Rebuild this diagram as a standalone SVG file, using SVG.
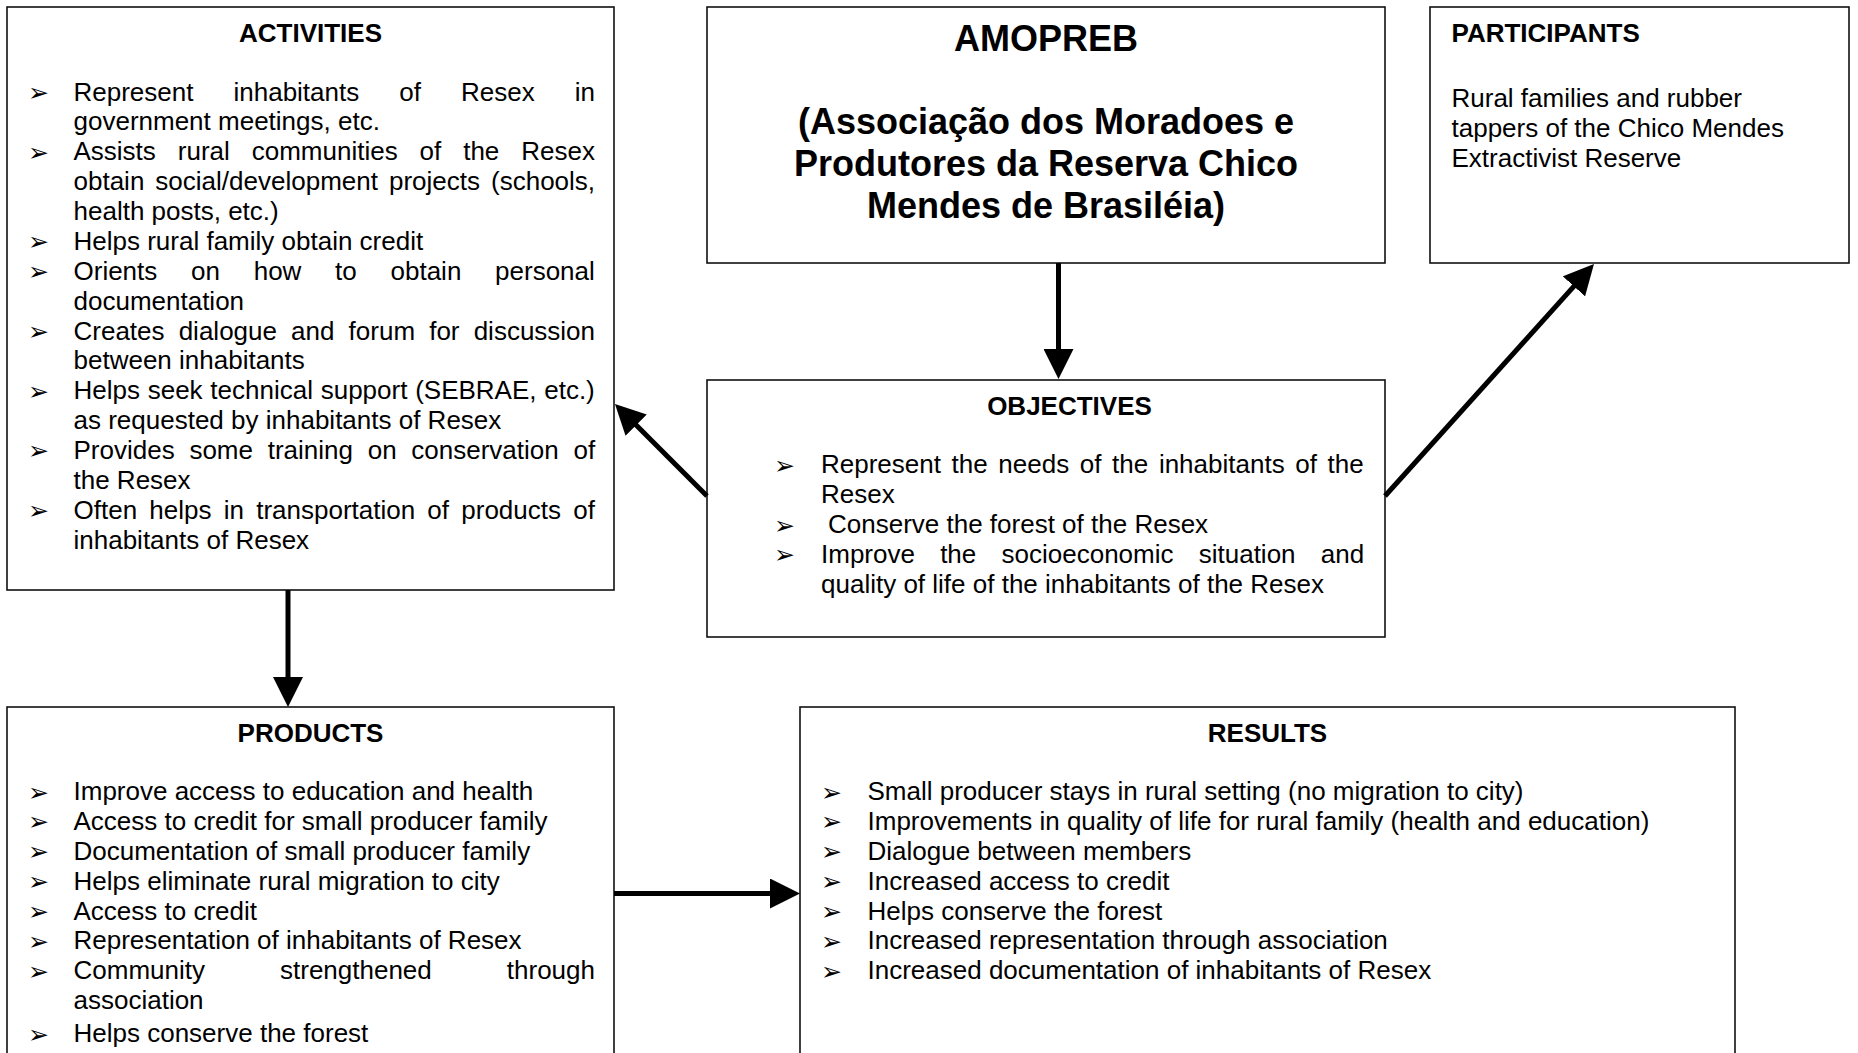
<svg xmlns="http://www.w3.org/2000/svg" width="1858" height="1053" viewBox="0 0 1858 1053">
<style>
.box{fill:#fff;stroke:#111;stroke-width:1.6}
text{font-family:"Liberation Sans",Arial,sans-serif;font-size:26px;fill:#000}
.h{font-weight:bold}
.t{font-weight:bold;font-size:36px}
.c{text-anchor:middle}
.b{font-family:"DejaVu Sans",sans-serif;font-size:25px}
.con{stroke:#000;stroke-width:5;fill:none;marker-end:url(#ah)}
</style>
<defs>
<marker id="ah" viewBox="0 0 30 30" refX="10" refY="15" markerWidth="30" markerHeight="30" markerUnits="userSpaceOnUse" orient="auto">
<path d="M0,0 L30,15 L0,30 z" fill="#000"/>
</marker>
</defs>
<rect width="1858" height="1053" fill="#fff"/>

<g id="activities">
<rect class="box" x="7" y="7" width="607" height="583"/>
<text class="h c" x="310.5" y="42">ACTIVITIES</text>
<text class="b" x="28" y="101">➢</text>
<text x="73.5" y="100.5" word-spacing="32.8">Represent inhabitants of Resex in</text>
<text x="73.5" y="130.4">government meetings, etc.</text>
<text class="b" x="28" y="160.7">➢</text>
<text x="73.5" y="160.2" word-spacing="14.7">Assists rural communities of the Resex</text>
<text x="73.5" y="190.1" word-spacing="3.8">obtain social/development projects (schools,</text>
<text x="73.5" y="220">health posts, etc.)</text>
<text class="b" x="28" y="250.4">➢</text>
<text x="73.5" y="249.9">Helps rural family obtain credit</text>
<text class="b" x="28" y="280.2">➢</text>
<text x="73.5" y="279.7" word-spacing="26.5">Orients on how to obtain personal</text>
<text x="73.5" y="309.6">documentation</text>
<text class="b" x="28" y="340">➢</text>
<text x="73.5" y="339.5" word-spacing="6.9">Creates dialogue and forum for discussion</text>
<text x="73.5" y="369.3">between inhabitants</text>
<text class="b" x="28" y="399.7">➢</text>
<text x="73.5" y="399.2" word-spacing="0.5">Helps seek technical support (SEBRAE, etc.)</text>
<text x="73.5" y="429.1">as requested by inhabitants of Resex</text>
<text class="b" x="28" y="459.4">➢</text>
<text x="73.5" y="458.9" word-spacing="7.5">Provides some training on conservation of</text>
<text x="73.5" y="488.8">the Resex</text>
<text class="b" x="28" y="519.2">➢</text>
<text x="73.5" y="518.7" word-spacing="5">Often helps in transportation of products of</text>
<text x="73.5" y="548.6">inhabitants of Resex</text>
</g>

<g id="amopreb">
<rect class="box" x="707" y="7" width="678" height="256"/>
<text class="t c" x="1046" y="51">AMOPREB</text>
<text class="t c" x="1046" y="134">(Associação dos Moradoes e</text>
<text class="t c" x="1046" y="176">Produtores da Reserva Chico</text>
<text class="t c" x="1046" y="218">Mendes de Brasiléia)</text>
</g>

<g id="participants">
<rect class="box" x="1430" y="7" width="419" height="256"/>
<text class="h" x="1451.5" y="42">PARTICIPANTS</text>
<text x="1451.5" y="107">Rural families and rubber</text>
<text x="1451.5" y="136.9">tappers of the Chico Mendes</text>
<text x="1451.5" y="166.7">Extractivist Reserve</text>
</g>

<g id="objectives">
<rect class="box" x="707" y="380" width="678" height="257"/>
<text class="h c" x="1069.5" y="415">OBJECTIVES</text>
<text class="b" x="774" y="473.8">➢</text>
<text x="821" y="473.3" word-spacing="3.4">Represent the needs of the inhabitants of the</text>
<text x="821" y="503.2">Resex</text>
<text class="b" x="774" y="533.5">➢</text>
<text x="828" y="533">Conserve the forest of the Resex</text>
<text class="b" x="774" y="563.4">➢</text>
<text x="821" y="562.9" word-spacing="18">Improve the socioeconomic situation and</text>
<text x="821" y="592.7">quality of life of the inhabitants of the Resex</text>
</g>

<g id="products">
<rect class="box" x="7" y="707" width="607" height="360"/>
<text class="h c" x="310.5" y="742">PRODUCTS</text>
<text class="b" x="28" y="800.5">➢</text>
<text x="73.5" y="800">Improve access to education and health</text>
<text class="b" x="28" y="830.4">➢</text>
<text x="73.5" y="829.9">Access to credit for small producer family</text>
<text class="b" x="28" y="860.2">➢</text>
<text x="73.5" y="859.7">Documentation of small producer family</text>
<text class="b" x="28" y="890.1">➢</text>
<text x="73.5" y="889.6">Helps eliminate rural migration to city</text>
<text class="b" x="28" y="920">➢</text>
<text x="73.5" y="919.5">Access to credit</text>
<text class="b" x="28" y="949.9">➢</text>
<text x="73.5" y="949.4">Representation of inhabitants of Resex</text>
<text class="b" x="28" y="979.7">➢</text>
<text x="73.5" y="979.2" word-spacing="67.8">Community strengthened through</text>
<text x="73.5" y="1009.1">association</text>
<text class="b" x="28" y="1042.5">➢</text>
<text x="73.5" y="1042">Helps conserve the forest</text>
</g>

<g id="results">
<rect class="box" x="800" y="707" width="935" height="360"/>
<text class="h c" x="1267.5" y="742">RESULTS</text>
<text class="b" x="821" y="800.5">➢</text>
<text x="867.5" y="800">Small producer stays in rural setting (no migration to city)</text>
<text class="b" x="821" y="830.4">➢</text>
<text x="867.5" y="829.9">Improvements in quality of life for rural family (health and education)</text>
<text class="b" x="821" y="860.2">➢</text>
<text x="867.5" y="859.7">Dialogue between members</text>
<text class="b" x="821" y="890.1">➢</text>
<text x="867.5" y="889.6">Increased access to credit</text>
<text class="b" x="821" y="920">➢</text>
<text x="867.5" y="919.5">Helps conserve the forest</text>
<text class="b" x="821" y="949.9">➢</text>
<text x="867.5" y="949.4">Increased representation through association</text>
<text class="b" x="821" y="979.7">➢</text>
<text x="867.5" y="979.2">Increased documentation of inhabitants of Resex</text>
</g>

<g id="connectors">
<line class="con" x1="1058.5" y1="263" x2="1058.5" y2="359"/>
<line class="con" x1="707" y1="496" x2="629.1" y2="418.1"/>
<line class="con" x1="1385" y1="496" x2="1580.6" y2="278.9"/>
<line class="con" x1="288" y1="590" x2="288" y2="687"/>
<line class="con" x1="614" y1="893.5" x2="780" y2="893.5"/>
</g>
</svg>
